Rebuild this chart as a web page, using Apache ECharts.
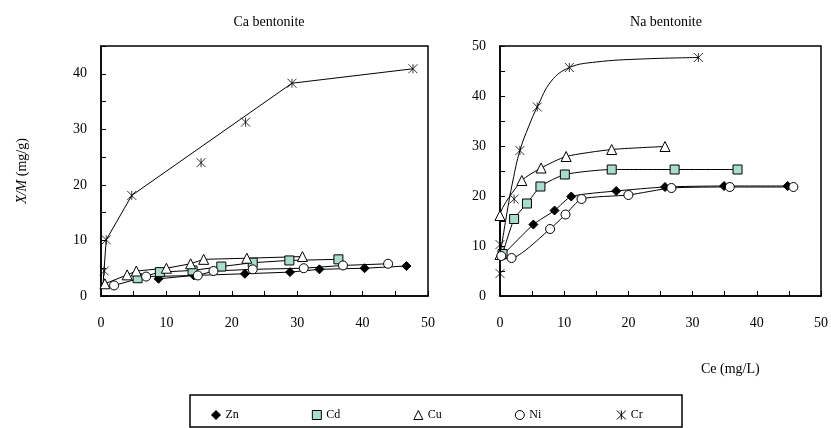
<html>
<head>
<meta charset="utf-8">
<script src="https://cdn.jsdelivr.net/npm/echarts@6/dist/echarts.min.js"></script>
</head>
<body style="margin:0">
<div id="main" style="width:831px;height:428px;"></div>
<script>
// Ca bentonite (left panel) - [Ce, X/M]
var caZn = [[8.8, 3.1], [14.2, 3.7], [22.0, 4.0], [28.9, 4.3], [33.4, 4.8], [40.3, 5.0], [46.7, 5.4]];
var caCd = [[5.6, 3.2], [9.0, 4.3], [14.0, 4.6], [18.4, 5.3], [23.2, 6.0], [28.8, 6.4], [36.3, 6.6]];
var caCu = [[0.6, 2.2], [4.0, 3.8], [5.4, 4.5], [10.0, 5.0], [13.7, 5.8], [15.7, 6.6], [22.3, 6.8], [30.8, 7.1]];
var caNi = [[2.0, 1.9], [6.9, 3.5], [14.8, 3.7], [17.2, 4.5], [23.2, 4.8], [31.0, 5.0], [37.0, 5.5], [43.9, 5.8]];
var caCr = [[0.5, 4.5], [0.8, 10.1], [4.7, 18.1], [15.3, 24.0], [22.1, 31.3], [29.2, 38.3], [47.7, 40.9]];
var caCrFit = [[0.3, 2.0], [0.8, 10.1], [4.7, 18.1], [29.2, 38.3], [47.7, 40.9]];

// Na bentonite (right panel)
var naZn = [[0.3, 8.0], [5.2, 14.3], [8.5, 17.1], [11.1, 19.9], [18.1, 21.0], [25.7, 21.8], [34.9, 22.0], [44.8, 22.0]];
var naCd = [[0.4, 8.4], [2.2, 15.4], [4.2, 18.5], [6.3, 21.9], [10.1, 24.3], [17.4, 25.3], [27.2, 25.3], [37.0, 25.3]];
var naCu = [[0, 8.3], [0, 16.1], [3.4, 23.1], [6.4, 25.6], [10.3, 27.9], [17.4, 29.3], [25.7, 29.9]];
var naNi = [[0.2, 8.0], [1.8, 7.6], [7.8, 13.4], [10.2, 16.3], [12.7, 19.4], [20.0, 20.2], [26.7, 21.6], [35.8, 21.8], [45.7, 21.8]];
var naCr = [[0, 4.5], [0, 10.3], [2.2, 19.4], [3.1, 29.1], [5.8, 37.8], [10.8, 45.7], [30.9, 47.7]];
var naCrFit = [[0, 8], [1, 16], [2, 23], [3.1, 29.1], [4.5, 34], [5.8, 37.8], [8, 43], [10.8, 45.7], [15, 46.8], [22, 47.4], [30.9, 47.7]];

var metals = ['Zn', 'Cd', 'Cu', 'Ni', 'Cr'];
var xTicks = [0, 10, 20, 30, 40, 50];

var asterisk = 'path://M0,0L10,10M10,0L0,10M5,0L5,10';
var look = {
    Zn: {symbol: 'diamond', size: 9, fill: '#000'},
    Cd: {symbol: 'rect', size: 9, fill: '#a9dccd'},
    Cu: {symbol: 'triangle', size: 10, fill: '#fff'},
    Ni: {symbol: 'circle', size: 9, fill: '#fff'},
    Cr: {symbol: asterisk, size: 9, fill: 'none'}
};
var serif = 'Liberation Serif';

var myChart = echarts.init(document.getElementById('main'));

function lineSeries(name, data, idx, opt) {
    opt = opt || {};
    var l = look[name];
    return {
        name: name,
        type: 'line',
        xAxisIndex: idx,
        yAxisIndex: idx,
        data: data,
        smooth: opt.smooth || false,
        symbol: opt.noSymbol ? 'none' : l.symbol,
        symbolSize: l.size,
        showAllSymbol: true,
        lineStyle: {color: '#000', width: 1},
        itemStyle: {color: l.fill, borderColor: '#000', borderWidth: 1},
        z: opt.z || 2
    };
}

function pointSeries(name, data, idx) {
    var l = look[name];
    return {
        name: name,
        type: 'scatter',
        xAxisIndex: idx,
        yAxisIndex: idx,
        data: data,
        symbol: l.symbol,
        symbolSize: l.size,
        itemStyle: {color: l.fill, borderColor: '#000', borderWidth: 1},
        z: 3
    };
}

function xAxis(idx) {
    return {
        type: 'value', gridIndex: idx, min: 0, max: 50, interval: 5,
        axisLine: {show: true, onZero: false, lineStyle: {color: '#000', width: 1.5}},
        axisTick: {inside: true, length: 5, lineStyle: {color: '#000'}},
        axisLabel: {
            margin: 20, color: '#000', fontFamily: serif, fontSize: 14,
            formatter: function (v) { return xTicks.indexOf(v) >= 0 ? v : ''; }
        },
        splitLine: {show: false}
    };
}

function yAxis(idx, max, withName) {
    var ax = {
        type: 'value', gridIndex: idx, min: 0, max: max, interval: 5,
        axisLine: {show: true, onZero: false, lineStyle: {color: '#000', width: 1.5}},
        axisTick: {inside: true, length: 5, lineStyle: {color: '#000'}},
        axisLabel: {
            margin: 14, color: '#000', fontFamily: serif, fontSize: 14,
            formatter: function (v) { return v % 10 === 0 ? v : ''; }
        },
        splitLine: {show: false}
    };
    if (withName) {
        ax.name = '{i|X/M} (mg/g)';
        ax.nameLocation = 'middle';
        ax.nameGap = 72;
        ax.nameTextStyle = {
            color: '#000', fontFamily: serif, fontSize: 14,
            rich: {i: {fontStyle: 'italic', fontFamily: serif, fontSize: 14, color: '#000'}}
        };
    }
    return ax;
}

var series = [
    lineSeries('Zn', caZn, 0),
    lineSeries('Cd', caCd, 0),
    lineSeries('Cu', caCu, 0),
    lineSeries('Ni', caNi, 0),
    lineSeries('Cr', caCrFit, 0, {noSymbol: true}),
    pointSeries('Cr', caCr, 0),
    lineSeries('Zn', naZn, 1, {smooth: 0.2}),
    lineSeries('Cd', naCd, 1, {smooth: 0.2}),
    lineSeries('Cu', naCu, 1, {smooth: 0.2}),
    lineSeries('Ni', naNi, 1, {smooth: 0.2}),
    lineSeries('Cr', naCrFit, 1, {noSymbol: true, smooth: 0.4}),
    pointSeries('Cr', naCr, 1)
];

var option = {
    animation: false,
    backgroundColor: '#fff',
    title: [
        {text: 'Ca bentonite', left: 264, top: 10, textAlign: 'center',
            textStyle: {fontFamily: serif, fontSize: 14, fontWeight: 'normal', color: '#000'}},
        {text: 'Na bentonite', left: 661, top: 10, textAlign: 'center',
            textStyle: {fontFamily: serif, fontSize: 14, fontWeight: 'normal', color: '#000'}}
    ],
    grid: [
        {left: 101, right: 403, top: 46, bottom: 132, show: true, borderColor: '#000', borderWidth: 1.5},
        {left: 500, right: 8, top: 46, bottom: 132, show: true, borderColor: '#000', borderWidth: 1.5}
    ],
    xAxis: [xAxis(0), xAxis(1)],
    yAxis: [yAxis(0, 45, true), yAxis(1, 50, false)],
    legend: {
        left: 206, top: 403, itemGap: 73, itemWidth: 9, itemHeight: 9,
        textStyle: {fontFamily: serif, fontSize: 12, color: '#000'},
        data: metals.map(function (m) {
            var l = look[m];
            return {name: m, icon: l.symbol,
                itemStyle: {color: l.fill, borderColor: '#000', borderWidth: 1}};
        })
    },
    graphic: [
        {type: 'text', left: 701, top: 362,
            style: {text: 'Ce (mg/L)', font: '14px "Liberation Serif"', fill: '#000'}},
        {type: 'rect', shape: {x: 190, y: 395, width: 492, height: 32},
            style: {fill: 'none', stroke: '#000', lineWidth: 1.5}}
    ],
    series: series
};

myChart.setOption(option);
</script>
</body>
</html>
